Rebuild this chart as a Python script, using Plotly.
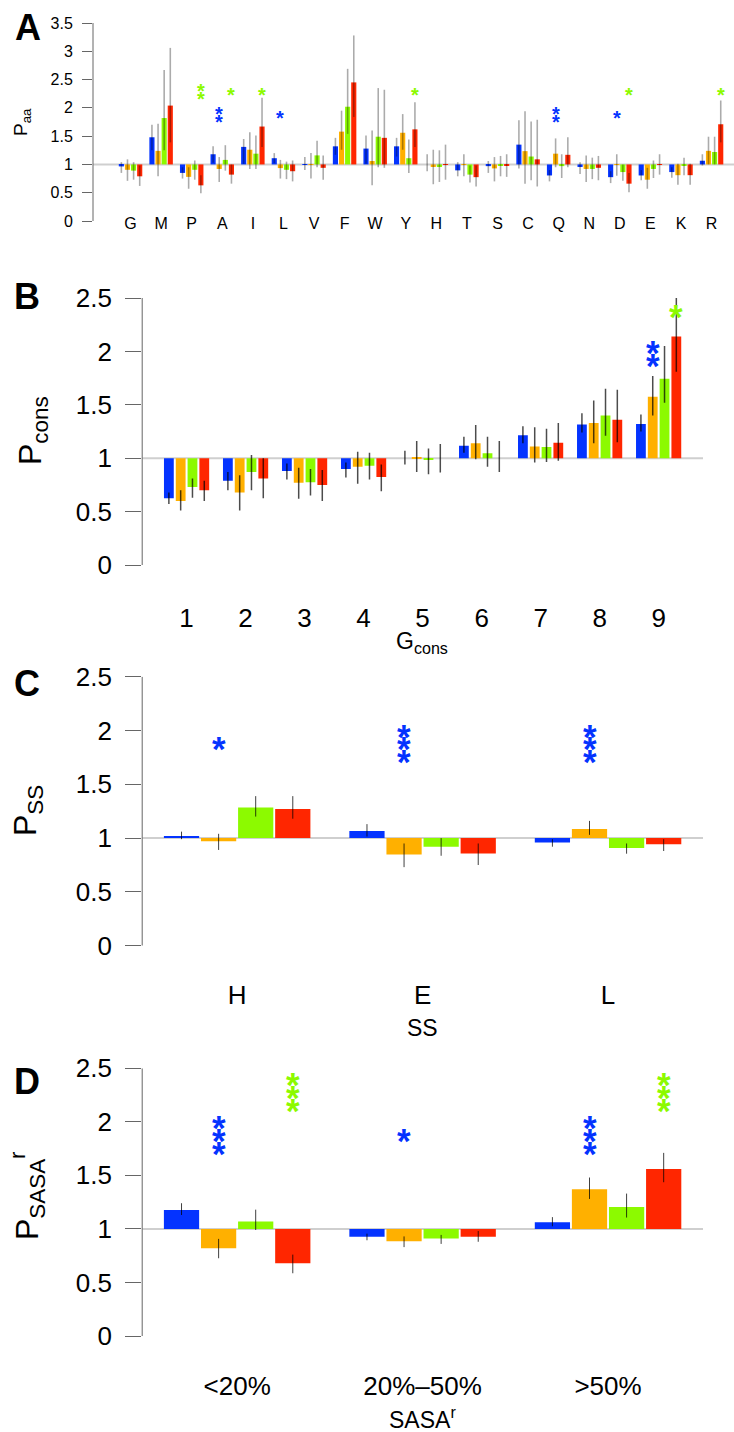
import plotly.graph_objects as go

W, H = 734, 1432
COLORS = ["#0433FF", "#FFB000", "#8CFA00", "#FF2600"]
STAR_COLORS = {1: "#0433FF", 3: "#8CFA00"}
FONT = "Liberation Sans, Arial, Helvetica, sans-serif"

# ---------------- Panel A : amino acids ----------------
aa_cats = ["G", "M", "P", "A", "I", "L", "V", "F", "W", "Y",
           "H", "T", "S", "C", "Q", "N", "D", "E", "K", "R"]
aa_blue = [0.965, 1.48, 0.85, 1.18, 1.31, 1.11, 1.005, 1.32, 1.28, 1.32,
           1.0, 0.895, 0.97, 1.35, 0.805, 0.955, 0.775, 0.805, 0.865, 1.065]
aa_orange = [0.905, 1.24, 0.78, 0.92, 1.26, 0.935, 0.99, 1.58, 1.06, 1.56,
             0.955, 0.99, 0.93, 1.235, 1.19, 0.92, 0.99, 0.73, 0.81, 1.24]
aa_green = [0.89, 1.82, 0.905, 1.08, 1.19, 0.905, 1.16, 2.02, 1.49, 1.11,
            0.955, 0.82, 0.985, 1.14, 0.97, 0.92, 0.865, 0.92, 0.98, 1.22]
aa_red = [0.79, 2.04, 0.63, 0.82, 1.67, 0.88, 0.94, 2.45, 1.47, 1.62,
          0.99, 0.775, 0.98, 1.09, 1.17, 0.94, 0.66, 0.99, 0.81, 1.71]
aa_blue_lo = [0.85, 1.25, 0.75, 1.03, 1.01, 1.02, 0.90, 1.17, 1.01, 1.14,
              0.88, 0.79, 0.85, 0.93, 0.70, 0.83, 0.67, 0.72, 0.765, 0.98]
aa_blue_hi = [1.04, 1.70, 0.95, 1.32, 1.45, 1.20, 1.13, 1.47, 1.51, 1.47,
              1.18, 1.04, 1.06, 1.78, 0.90, 1.04, 0.88, 0.90, 0.95, 1.18]
aa_orange_lo = [0.71, 0.79, 0.57, 0.69, 0.92, 0.75, 0.75, 1.26, 0.63, 1.26,
                0.65, 0.79, 0.70, 0.66, 0.95, 0.69, 0.80, 0.57, 0.64, 1.0]
aa_orange_hi = [1.09, 1.72, 0.95, 1.13, 1.57, 1.08, 1.20, 1.95, 1.60, 1.89,
                1.26, 1.18, 1.13, 1.94, 1.46, 1.16, 1.18, 0.94, 1.01, 1.49]
aa_green_lo = [0.73, 1.25, 0.73, 0.89, 0.92, 0.74, 0.95, 1.54, 0.95, 0.85,
               0.69, 0.68, 0.79, 0.72, 0.76, 0.74, 0.71, 0.76, 0.81, 1.0]
aa_green_hi = [1.04, 2.67, 1.07, 1.34, 1.51, 1.05, 1.42, 2.69, 2.35, 1.44,
               1.25, 0.98, 1.15, 1.76, 1.18, 1.12, 1.0, 1.07, 1.12, 1.49]
aa_red_lo = [0.62, 1.39, 0.49, 0.66, 1.31, 0.70, 0.73, 1.84, 0.94, 1.31,
             0.73, 0.61, 0.78, 0.61, 0.95, 0.72, 0.51, 0.82, 0.64, 1.39]
aa_red_hi = [0.98, 3.06, 0.81, 1.0, 2.18, 1.07, 1.16, 3.28, 2.32, 2.10,
             1.35, 0.98, 1.18, 1.79, 1.48, 1.15, 0.85, 1.18, 1.01, 2.13]
aa_star_group = [2, 3, 3, 4, 5, 9, 14, 16, 16, 19]
aa_star_series = [3, 1, 3, 3, 1, 3, 1, 1, 3, 3]
aa_star_count = [2, 2, 1, 1, 1, 1, 2, 1, 1, 1]
aa_yticks = [0, 0.5, 1, 1.5, 2, 2.5, 3, 3.5]
aa_yticklabels = ["0", "0.5", "1", "1.5", "2", "2.5", "3", "3.5"]

# ---------------- Panel B : conservation ----------------
cons_cats = ["1", "2", "3", "4", "5", "6", "7", "8", "9"]
cons_blue = [0.625, 0.79, 0.88, 0.90, 1.0, 1.116, 1.216, 1.316, 1.32]
cons_orange = [0.60, 0.68, 0.77, 0.92, 1.01, 1.14, 1.11, 1.33, 1.575]
cons_green = [0.73, 0.87, 0.775, 0.93, 0.985, 1.047, 1.106, 1.40, 1.744]
cons_red = [0.70, 0.81, 0.75, 0.825, 1.0, 1.0, 1.144, 1.36, 2.14]
cons_blue_lo = [0.57, 0.70, 0.80, 0.82, 0.94, 1.05, 1.14, 1.24, 1.25]
cons_blue_hi = [0.68, 0.87, 0.95, 0.96, 1.07, 1.20, 1.30, 1.42, 1.41]
cons_orange_lo = [0.51, 0.51, 0.62, 0.76, 0.87, 0.99, 0.96, 1.14, 1.40]
cons_orange_hi = [0.70, 0.84, 0.91, 1.06, 1.16, 1.31, 1.29, 1.54, 1.77]
cons_green_lo = [0.63, 0.70, 0.65, 0.80, 0.85, 0.92, 0.965, 1.21, 1.52]
cons_green_hi = [0.81, 1.03, 0.90, 1.05, 1.09, 1.20, 1.275, 1.65, 2.05]
cons_red_lo = [0.60, 0.625, 0.60, 0.69, 0.866, 0.87, 0.975, 1.15, 1.81]
cons_red_hi = [0.79, 1.0, 0.89, 0.94, 1.134, 1.16, 1.33, 1.64, 2.50]
cons_star_group = [8, 8]
cons_star_series = [1, 3]
cons_star_count = [2, 1]

# ---------------- Panel C : secondary structure ----------------
ss_cats = ["H", "E", "L"]
ss_blue = [1.02, 1.065, 0.96]
ss_orange = [0.97, 0.848, 1.084]
ss_green = [1.285, 0.92, 0.907]
ss_red = [1.27, 0.857, 0.944]
ss_blue_lo = [0.99, 1.015, 0.92]
ss_blue_hi = [1.06, 1.13, 0.99]
ss_orange_lo = [0.89, 0.73, 1.03]
ss_orange_hi = [1.04, 0.95, 1.16]
ss_green_lo = [1.20, 0.836, 0.855]
ss_green_hi = [1.39, 1.0, 0.95]
ss_red_lo = [1.18, 0.75, 0.88]
ss_red_hi = [1.39, 0.95, 0.99]
ss_star_group = [0, 1, 2]
ss_star_series = [1, 1, 1]
ss_star_count = [1, 3, 3]

# ---------------- Panel D : relative solvent accessibility ----------------
sasa_cats = ["<20%", "20%\u201350%", ">50%"]
sasa_blue = [1.177, 0.928, 1.062]
sasa_orange = [0.82, 0.885, 1.37]
sasa_green = [1.07, 0.91, 1.205]
sasa_red = [0.68, 0.928, 1.56]
sasa_blue_lo = [1.13, 0.894, 1.025]
sasa_blue_hi = [1.24, 0.956, 1.11]
sasa_orange_lo = [0.726, 0.83, 1.28]
sasa_orange_hi = [0.907, 0.93, 1.48]
sasa_green_lo = [0.99, 0.86, 1.106]
sasa_green_hi = [1.18, 0.944, 1.33]
sasa_red_lo = [0.586, 0.88, 1.436]
sasa_red_hi = [0.76, 0.98, 1.71]
sasa_star_group = [0, 0, 1, 2, 2]
sasa_star_series = [1, 3, 1, 1, 3]
sasa_star_count = [3, 3, 1, 3, 3]

big_yticks = [0, 0.5, 1, 1.5, 2, 2.5]
big_yticklabels = ["0", "0.5", "1", "1.5", "2", "2.5"]


def py(px):
    return 1 - px / H


def pxx(px):
    return px / W


panels = [
    dict(cats=aa_cats,
         vals=[aa_blue, aa_orange, aa_green, aa_red],
         lo=[aa_blue_lo, aa_orange_lo, aa_green_lo, aa_red_lo],
         hi=[aa_blue_hi, aa_orange_hi, aa_green_hi, aa_red_hi],
         stars=(aa_star_group, aa_star_series, aa_star_count),
         star_level={1: 1.9, 3: 2.3}, star_step=0.14, star_font=20,
         yticks=aa_yticks, yticklabels=aa_yticklabels, ymax=3.5,
         xdom=(93, 734), xrange=(-3.137, 101.67), ydom=(23, 221),
         xaxis_px=212, tickfont=16, xtickfont=16, ticklen=10, standoff=6,
         err_color="rgba(0,0,0,0.33)", err_w=1.6, bar_w=0.84,
         letter="A", letter_pos=(28, 28),
         ylabel="P<sub>aa</sub>", ylabel_pos=(22, 122), ylabel_font=19,
         xlabel=None, xlabel_pos=None),
    dict(cats=cons_cats,
         vals=[cons_blue, cons_orange, cons_green, cons_red],
         lo=[cons_blue_lo, cons_orange_lo, cons_green_lo, cons_red_lo],
         hi=[cons_blue_hi, cons_orange_hi, cons_green_hi, cons_red_hi],
         stars=(cons_star_group, cons_star_series, cons_star_count),
         star_level={1: 2.0, 3: 2.4}, star_step=0.12, star_font=35,
         yticks=big_yticks, yticklabels=big_yticklabels, ymax=2.5,
         xdom=(142.2, 703), xrange=(-0.76, 46.76), ydom=(298, 565),
         xaxis_px=600, tickfont=26, xtickfont=26, ticklen=16, standoff=8,
         err_color="rgba(0,0,0,0.7)", err_w=1.5, bar_w=0.83,
         letter="B", letter_pos=(27, 296),
         ylabel="P<sub>cons</sub>", ylabel_pos=(32, 431), ylabel_font=32,
         xlabel="G<sub>cons</sub>", xlabel_pos=(422, 642)),
    dict(cats=ss_cats,
         vals=[ss_blue, ss_orange, ss_green, ss_red],
         lo=[ss_blue_lo, ss_orange_lo, ss_green_lo, ss_red_lo],
         hi=[ss_blue_hi, ss_orange_hi, ss_green_hi, ss_red_hi],
         stars=(ss_star_group, ss_star_series, ss_star_count),
         star_level={1: 1.9, 3: 2.3}, star_step=0.12, star_font=35,
         yticks=big_yticks, yticklabels=big_yticklabels, ymax=2.5,
         xdom=(142.2, 703), xrange=(0.44, 15.56), ydom=(676.7, 945.7),
         xaxis_px=977, tickfont=26, xtickfont=26, ticklen=16, standoff=8,
         err_color="rgba(0,0,0,0.75)", err_w=1, bar_w=0.95,
         letter="C", letter_pos=(27, 683),
         ylabel="P<sub>SS</sub>", ylabel_pos=(27, 811), ylabel_font=32,
         xlabel="SS", xlabel_pos=(422, 1028)),
    dict(cats=sasa_cats,
         vals=[sasa_blue, sasa_orange, sasa_green, sasa_red],
         lo=[sasa_blue_lo, sasa_orange_lo, sasa_green_lo, sasa_red_lo],
         hi=[sasa_blue_hi, sasa_orange_hi, sasa_green_hi, sasa_red_hi],
         stars=(sasa_star_group, sasa_star_series, sasa_star_count),
         star_level={1: 1.9, 3: 2.3}, star_step=0.12, star_font=35,
         yticks=big_yticks, yticklabels=big_yticklabels, ymax=2.5,
         xdom=(142.2, 703), xrange=(0.44, 15.56), ydom=(1068.3, 1336),
         xaxis_px=1368, tickfont=26, xtickfont=26, ticklen=16, standoff=8,
         err_color="rgba(0,0,0,0.75)", err_w=1, bar_w=0.95,
         letter="D", letter_pos=(27, 1081),
         ylabel="P<sub>SASA</sub><sup>r</sup>", ylabel_pos=(27, 1196), ylabel_font=32,
         xlabel="SASA<sup>r</sup>", xlabel_pos=(422, 1418)),
]

fig = go.Figure()
layout = {}
annotations = []
shapes = []

for i, p in enumerate(panels):
    n = i + 1
    xa = "x" if n == 1 else f"x{n}"
    ya = "y" if n == 1 else f"y{n}"
    xkey = "xaxis" if n == 1 else f"xaxis{n}"
    ykey = "yaxis" if n == 1 else f"yaxis{n}"
    ng = len(p["cats"])

    for j in range(4):
        xs = [1.5 + 5 * g + j for g in range(ng)]
        vals = p["vals"][j]
        fig.add_trace(go.Bar(
            x=xs, y=[v - 1 for v in vals], base=1, width=p["bar_w"],
            marker=dict(color=COLORS[j], line=dict(width=0)),
            xaxis=xa, yaxis=ya, showlegend=False, hoverinfo="skip"))
    for j in range(4):
        xs = [1.5 + 5 * g + j for g in range(ng)]
        vals = p["vals"][j]
        fig.add_trace(go.Scatter(
            x=xs, y=vals, mode="markers",
            marker=dict(size=2, color="rgba(0,0,0,0)"),
            error_y=dict(type="data", symmetric=False,
                         array=[h - v for h, v in zip(p["hi"][j], vals)],
                         arrayminus=[v - l for v, l in zip(vals, p["lo"][j])],
                         color=p["err_color"], thickness=p["err_w"], width=0),
            xaxis=xa, yaxis=ya, cliponaxis=False, showlegend=False, hoverinfo="skip"))

    layout[xkey] = dict(
        domain=[pxx(p["xdom"][0]), pxx(p["xdom"][1])], range=list(p["xrange"]),
        anchor="free", position=py(p["xaxis_px"]), automargin=False,
        tickvals=[3 + 5 * g for g in range(ng)], ticktext=p["cats"],
        ticks="", showline=False, showgrid=False, zeroline=False,
        tickfont=dict(family=FONT, size=p["xtickfont"], color="black"), fixedrange=True)
    layout[ykey] = dict(
        domain=[py(p["ydom"][1]), py(p["ydom"][0])], range=[0, p["ymax"]],
        anchor=xa, automargin=False, tickvals=p["yticks"], ticktext=p["yticklabels"],
        ticks="outside", ticklen=p["ticklen"], tickcolor="#666", tickwidth=1,
        ticklabelstandoff=p["standoff"],
        showline=False, showgrid=False, zeroline=False,
        tickfont=dict(family=FONT, size=p["tickfont"], color="black"), fixedrange=True)

    shapes.append(dict(type="line", xref=f"{xa} domain", yref=ya, x0=0, x1=1, y0=1, y1=1,
                       line=dict(color="#cfcfcf", width=2), layer="below"))
    shapes.append(dict(type="line", xref=f"{xa} domain", yref=ya, x0=0, x1=0,
                       y0=p["yticks"][0], y1=p["yticks"][-1],
                       line=dict(color="#666", width=1), layer="above"))

    sg, ss_, sc = p["stars"]
    for g, s, c in zip(sg, ss_, sc):
        xc = 1.5 + 5 * g + s
        for k in range(c):
            yv = p["star_level"][s] - (k - (c - 1) / 2) * p["star_step"]
            annotations.append(dict(
                x=xc, y=yv, xref=xa, yref=ya, text="<b>*</b>", showarrow=False,
                xanchor="center", yanchor="middle",
                yshift=-0.22 * p["star_font"],
                font=dict(family=FONT, size=p["star_font"], color=STAR_COLORS[s])))

    annotations.append(dict(
        x=pxx(p["letter_pos"][0]), y=py(p["letter_pos"][1]), xref="paper", yref="paper",
        text=f"<b>{p['letter']}</b>", showarrow=False, xanchor="center", yanchor="middle",
        font=dict(family=FONT, size=36, color="black")))
    annotations.append(dict(
        x=pxx(p["ylabel_pos"][0]), y=py(p["ylabel_pos"][1]), xref="paper", yref="paper",
        text=p["ylabel"], showarrow=False, textangle=-90, xanchor="center", yanchor="middle",
        font=dict(family=FONT, size=p["ylabel_font"], color="black")))
    if p["xlabel"]:
        annotations.append(dict(
            x=pxx(p["xlabel_pos"][0]), y=py(p["xlabel_pos"][1]), xref="paper", yref="paper",
            text=p["xlabel"], showarrow=False, xanchor="center", yanchor="middle",
            font=dict(family=FONT, size=23, color="black")))

fig.update_layout(
    template="none",
    width=W, height=H, margin=dict(l=0, r=0, t=0, b=0, pad=0), autosize=False,
    paper_bgcolor="white", plot_bgcolor="white",
    barmode="overlay", showlegend=False,
    annotations=annotations, shapes=shapes, **layout)

fig.write_html("out.html")
